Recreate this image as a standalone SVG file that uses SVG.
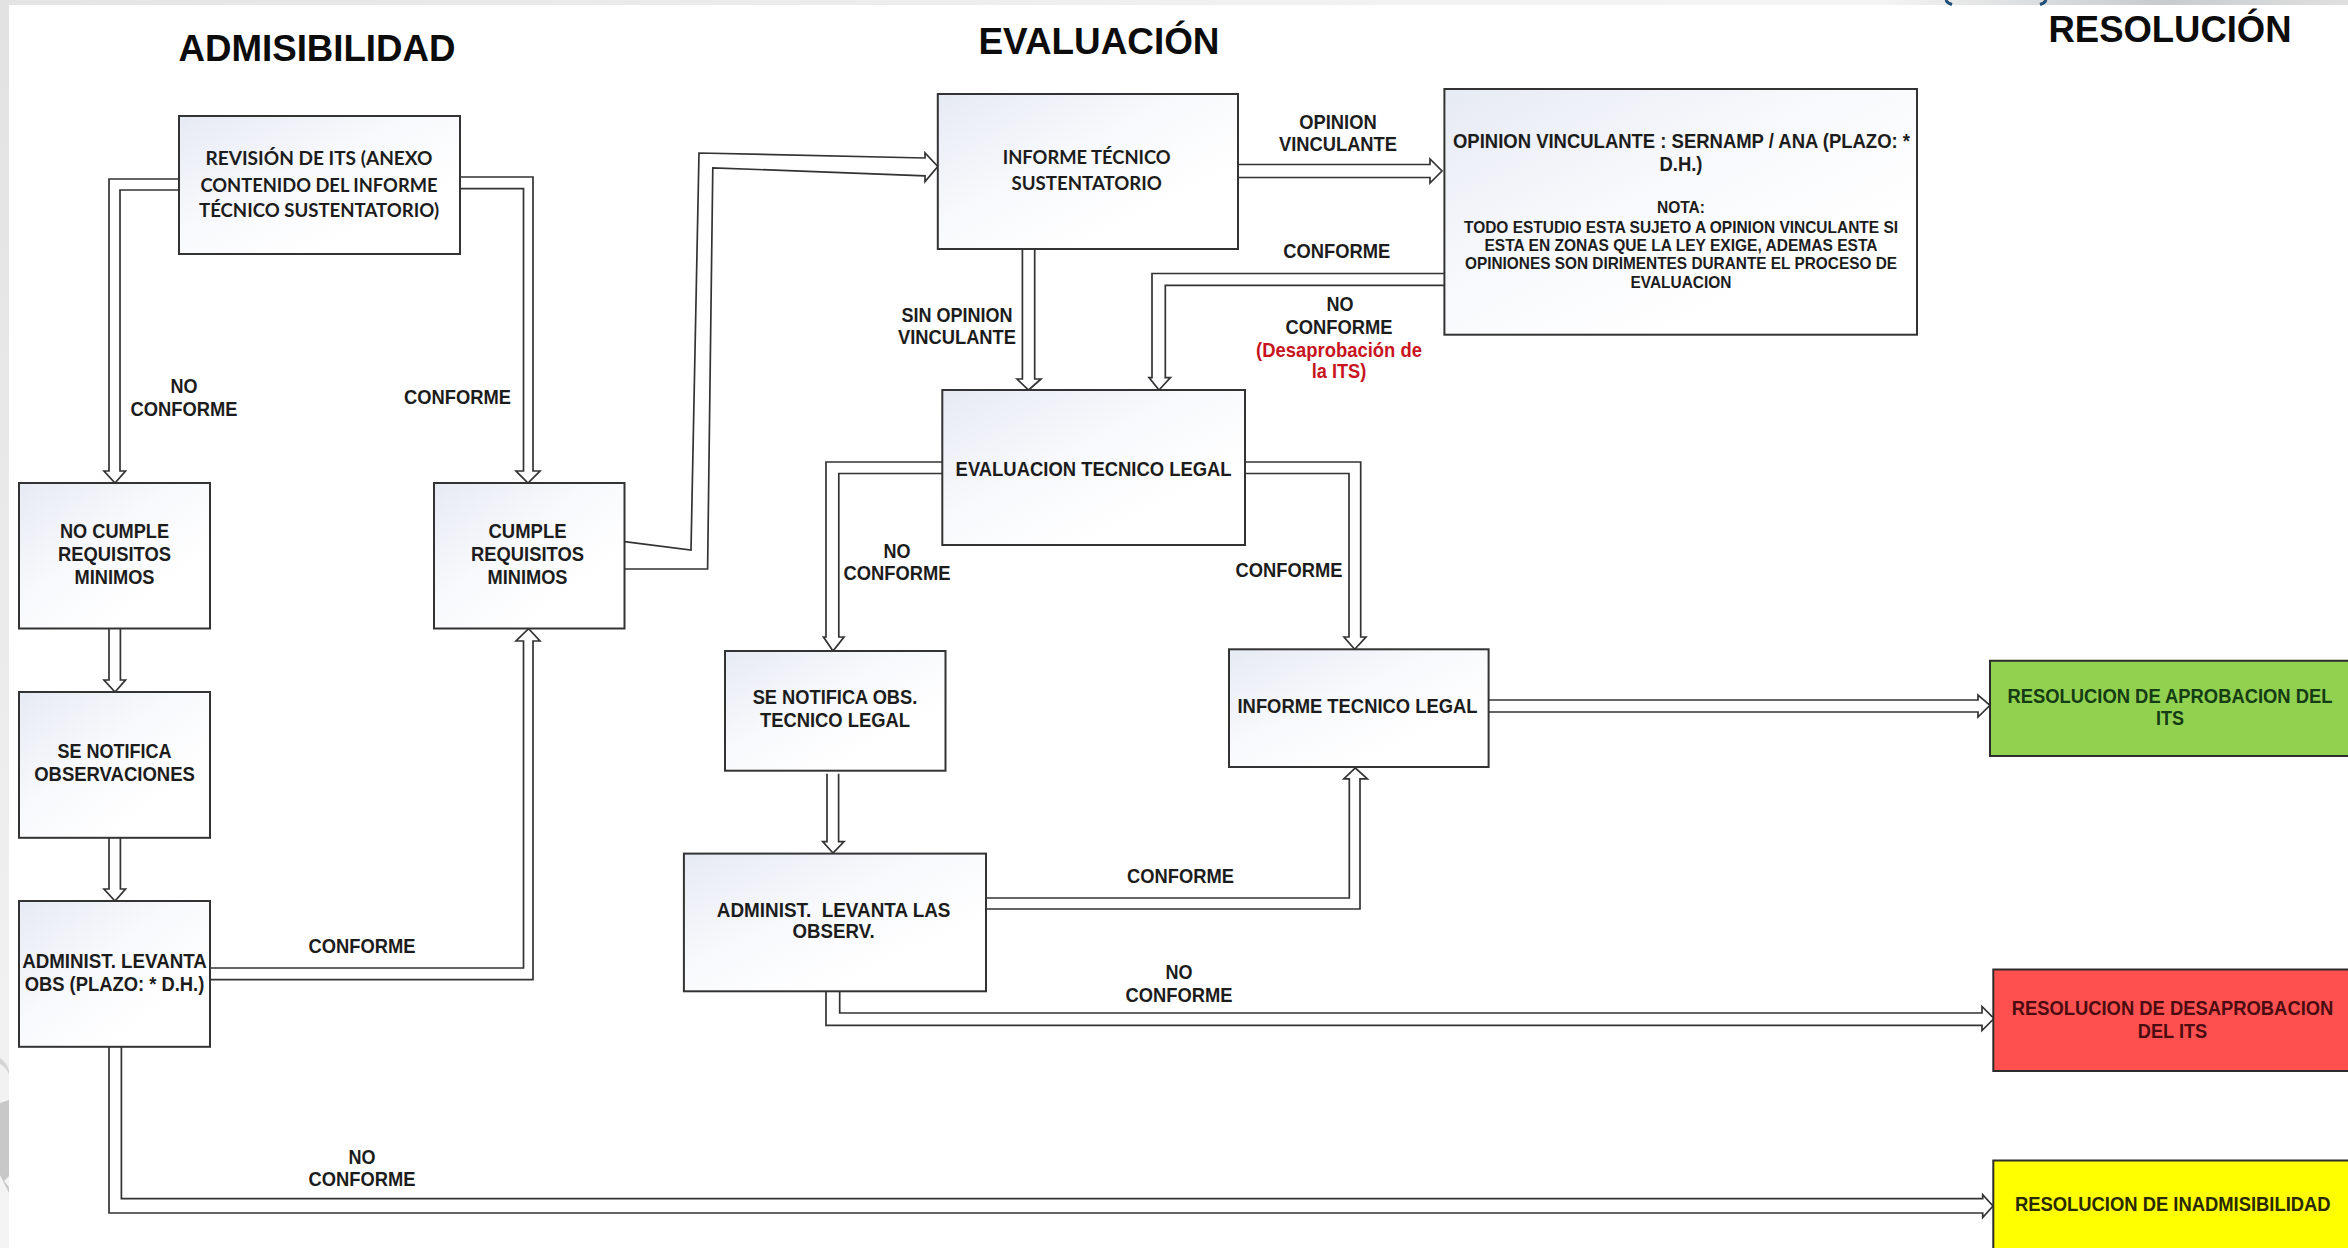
<svg xmlns="http://www.w3.org/2000/svg" width="2348" height="1248" viewBox="0 0 2348 1248">
<style>
text{font-family:"Liberation Sans",Arial,sans-serif;font-weight:700;font-size:21px;fill:#1c1c1c;text-anchor:middle}
.h{font-size:36px;fill:#0c0c0c}
.s{font-size:16.5px;font-weight:700}
.c{font-family:Lato,"Liberation Sans",sans-serif;font-size:19px}
.r{fill:#c8141e}
.g{fill:#143c14;font-size:20px}.d{fill:#4a0c10;font-size:20px}.y{fill:#2a2a00;font-size:20px}
.box{fill:url(#bg);stroke:#333;stroke-width:2}
.edge{fill:none;stroke:#2c2c2c;stroke-width:2}
#connectors path{fill:#fff;stroke:#333;stroke-width:1.7;stroke-linejoin:miter}
</style>
<defs>
<linearGradient id="bg" x1="0" y1="0" x2="0.75" y2="0.75"><stop offset="0" stop-color="#e6eaf4"/><stop offset="0.55" stop-color="#f8f9fc"/><stop offset="1" stop-color="#fff"/></linearGradient>
<linearGradient id="band"><stop offset="0" stop-color="#e4e4e4"/><stop offset="0.6" stop-color="#f2f2f2"/><stop offset="0.8" stop-color="#f4f4f4"/><stop offset="0.92" stop-color="#c8cacc"/><stop offset="1" stop-color="#e0e0e0"/></linearGradient>
<linearGradient id="side" x1="0" y1="0" x2="0" y2="1"><stop offset="0" stop-color="#e2e2e2"/><stop offset="1" stop-color="#f4f4f4"/></linearGradient>
</defs>
<rect width="2348" height="1248" fill="#fff"/>
<g id="backdrop">
<rect width="2348" height="5" fill="url(#band)"/>
<rect width="9" height="1248" fill="url(#side)"/>
<path d="M0,1103 L9,1100 V1176 L4,1181 L9,1187 V1193 L0,1175 Z" fill="#c8c8c8"/>
<path d="M0,1058 Q6,1062 9,1070 V1074 Q5,1066 0,1064 Z" fill="#d4d4d4"/>
<path d="M1946,0 Q1947,3 1952,4.5" fill="none" stroke="#1f4e79" stroke-width="3"/>
<path d="M2046,0 Q2045,3 2040,4.5" fill="none" stroke="#1f4e79" stroke-width="3"/>
</g>
<g id="headings">
<text class="h" x="317" y="61" textLength="277" lengthAdjust="spacingAndGlyphs">ADMISIBILIDAD</text>
<text class="h" x="1099" y="54" textLength="241" lengthAdjust="spacingAndGlyphs">EVALUACIÓN</text>
<text class="h" x="2170" y="41.5" textLength="243" lengthAdjust="spacingAndGlyphs">RESOLUCIÓN</text>
</g>
<g id="connectors">
<path d="M179,179H109V471H104L115,483L125.5,471H120V190H179"/>
<path d="M460,177H533V471H540L528,483L516,471H523.5V188.6H460"/>
<path d="M624.5,541.6L691,550L699,153L925,158V153L937.8,166.5L925,181.6V175.8L712.8,167.8L707.6,569H624.5"/>
<path d="M1238,164.5H1430V159L1442,171L1430,183V177.5H1238"/>
<path d="M1022.4,249V379H1017L1028.6,390L1041,379H1034.7V249"/>
<path d="M1444.4,273.5H1152V377.6H1149L1159,390L1170.4,377.6H1165.3V285.3H1444.4"/>
<path d="M942.3,462H826V637H823.5L833,651L844,637H838.8V473.5H942.3"/>
<path d="M1245,462H1360.7V637H1366L1354.7,649.3L1344,637H1349V473.5H1245"/>
<path d="M827,773.8V841.6H822.7L833,853L844,841.6H838.6V773.8"/>
<path d="M986,898H1349.3V778.8H1343.8L1355.3,768L1367.4,778.8H1360V909H986"/>
<path d="M826,991.3V1025.4H1982V1030.5L1994,1018.5L1982,1006.5V1013H839.7V991.3"/>
<path d="M1488.6,700H1978V695L1990,705.3L1978,717V712H1488.6"/>
<path d="M109,628.5V680H104L115,692L125.5,680H120.4V628.5"/>
<path d="M109,837.8V889H104L115,901L125.5,889H120.4V837.8"/>
<path d="M210,968H523.5V641H516L528.6,628.6L540,641H533V979.7H210"/>
<path d="M109,1046.8V1213H1982.7V1217.5L1993,1206L1982.7,1194.7V1198.7H121.4V1046.8"/>
</g>
<g id="labels">
<text x="184" y="393" textLength="27" lengthAdjust="spacingAndGlyphs">NO</text>
<text x="184" y="415.5" textLength="107" lengthAdjust="spacingAndGlyphs">CONFORME</text>
<text x="457.5" y="404" textLength="107" lengthAdjust="spacingAndGlyphs">CONFORME</text>
<text x="362" y="953" textLength="107" lengthAdjust="spacingAndGlyphs">CONFORME</text>
<text x="362" y="1163.5" textLength="27" lengthAdjust="spacingAndGlyphs">NO</text>
<text x="362" y="1186" textLength="107" lengthAdjust="spacingAndGlyphs">CONFORME</text>
<text x="1338" y="128.6" textLength="77.5" lengthAdjust="spacingAndGlyphs">OPINION</text>
<text x="1338" y="151" textLength="118" lengthAdjust="spacingAndGlyphs">VINCULANTE</text>
<text x="1336.7" y="258.4" textLength="107" lengthAdjust="spacingAndGlyphs">CONFORME</text>
<text x="1340" y="311" textLength="27" lengthAdjust="spacingAndGlyphs">NO</text>
<text x="1339" y="333.9" textLength="107" lengthAdjust="spacingAndGlyphs">CONFORME</text>
<text class="r" x="1339" y="357" textLength="166" lengthAdjust="spacingAndGlyphs">(Desaprobación de</text>
<text class="r" x="1339" y="377.6" textLength="54.6" lengthAdjust="spacingAndGlyphs">la ITS)</text>
<text x="957" y="322.4" textLength="111" lengthAdjust="spacingAndGlyphs">SIN OPINION</text>
<text x="957" y="343.7" textLength="118" lengthAdjust="spacingAndGlyphs">VINCULANTE</text>
<text x="897" y="558" textLength="27" lengthAdjust="spacingAndGlyphs">NO</text>
<text x="897" y="580.4" textLength="107" lengthAdjust="spacingAndGlyphs">CONFORME</text>
<text x="1289" y="577" textLength="107" lengthAdjust="spacingAndGlyphs">CONFORME</text>
<text x="1180.5" y="882.7" textLength="107" lengthAdjust="spacingAndGlyphs">CONFORME</text>
<text x="1179" y="979.3" textLength="27" lengthAdjust="spacingAndGlyphs">NO</text>
<text x="1179" y="1001.8" textLength="107" lengthAdjust="spacingAndGlyphs">CONFORME</text>
</g>
<g id="revision">
<rect class="box" x="179" y="116" width="281" height="138"/>
<text class="c" x="319" y="165" textLength="227" lengthAdjust="spacingAndGlyphs">REVISIÓN DE ITS (ANEXO</text>
<text class="c" x="319" y="192" textLength="237" lengthAdjust="spacingAndGlyphs">CONTENIDO DEL INFORME</text>
<text class="c" x="319" y="216.5" textLength="240" lengthAdjust="spacingAndGlyphs">TÉCNICO SUSTENTATORIO)</text>
</g>
<g id="no-cumple">
<rect class="box" x="19" y="483" width="191" height="145.5"/>
<text x="114.5" y="538" textLength="109" lengthAdjust="spacingAndGlyphs">NO CUMPLE</text>
<text x="114.5" y="561" textLength="113" lengthAdjust="spacingAndGlyphs">REQUISITOS</text>
<text x="114.5" y="584" textLength="80" lengthAdjust="spacingAndGlyphs">MINIMOS</text>
</g>
<g id="cumple">
<rect class="box" x="434" y="483" width="190.5" height="145.5"/>
<text x="527.5" y="538" textLength="78" lengthAdjust="spacingAndGlyphs">CUMPLE</text>
<text x="527.5" y="561" textLength="113" lengthAdjust="spacingAndGlyphs">REQUISITOS</text>
<text x="527.5" y="584" textLength="80" lengthAdjust="spacingAndGlyphs">MINIMOS</text>
</g>
<g id="se-notifica">
<rect class="box" x="19" y="692" width="191" height="145.8"/>
<text x="114.5" y="758" textLength="114" lengthAdjust="spacingAndGlyphs">SE NOTIFICA</text>
<text x="114.5" y="780.8" textLength="160.7" lengthAdjust="spacingAndGlyphs">OBSERVACIONES</text>
</g>
<g id="administ-obs">
<rect class="box" x="19" y="901" width="191" height="145.8"/>
<text x="114.5" y="967.6" textLength="184.7" lengthAdjust="spacingAndGlyphs">ADMINIST. LEVANTA</text>
<text x="114.5" y="991" textLength="179.6" lengthAdjust="spacingAndGlyphs">OBS (PLAZO: * D.H.)</text>
</g>
<g id="informe-tecnico">
<rect class="box" x="937.8" y="94" width="300.2" height="155"/>
<text class="c" x="1086.7" y="164" textLength="168" lengthAdjust="spacingAndGlyphs">INFORME TÉCNICO</text>
<text class="c" x="1086.7" y="190" textLength="150.5" lengthAdjust="spacingAndGlyphs">SUSTENTATORIO</text>
</g>
<g id="opinion">
<rect class="box" x="1444.4" y="89" width="472.6" height="245.7"/>
<text x="1681.5" y="148" textLength="457" lengthAdjust="spacingAndGlyphs">OPINION VINCULANTE : SERNAMP / ANA (PLAZO: *</text>
<text x="1681" y="170.6" textLength="43" lengthAdjust="spacingAndGlyphs">D.H.)</text>
<text class="s" x="1681" y="213" textLength="48" lengthAdjust="spacingAndGlyphs">NOTA:</text>
<text class="s" x="1681" y="232.6" textLength="434" lengthAdjust="spacingAndGlyphs">TODO ESTUDIO ESTA SUJETO A OPINION VINCULANTE SI</text>
<text class="s" x="1681" y="251" textLength="393" lengthAdjust="spacingAndGlyphs">ESTA EN ZONAS QUE LA LEY EXIGE, ADEMAS ESTA</text>
<text class="s" x="1681" y="269.4" textLength="432" lengthAdjust="spacingAndGlyphs">OPINIONES SON DIRIMENTES DURANTE EL PROCESO DE</text>
<text class="s" x="1681" y="287.8" textLength="101" lengthAdjust="spacingAndGlyphs">EVALUACION</text>
</g>
<g id="evaluacion">
<rect class="box" x="942.3" y="390" width="302.7" height="155"/>
<text x="1093.6" y="475.5" textLength="276" lengthAdjust="spacingAndGlyphs">EVALUACION TECNICO LEGAL</text>
</g>
<g id="se-notifica-obs">
<rect class="box" x="725" y="651" width="220.5" height="119.7"/>
<text x="835" y="704" textLength="164.6" lengthAdjust="spacingAndGlyphs">SE NOTIFICA OBS.</text>
<text x="835" y="727" textLength="150" lengthAdjust="spacingAndGlyphs">TECNICO LEGAL</text>
</g>
<g id="informe-legal">
<rect class="box" x="1229" y="649.3" width="259.6" height="117.7"/>
<text x="1357.5" y="712.5" textLength="240" lengthAdjust="spacingAndGlyphs">INFORME TECNICO LEGAL</text>
</g>
<g id="administ-levanta">
<rect class="box" x="683.9" y="853.6" width="302.1" height="137.7"/>
<text x="833.6" y="916.5" textLength="233.7" lengthAdjust="spacingAndGlyphs" xml:space="preserve">ADMINIST.  LEVANTA LAS</text>
<text x="833.6" y="938" textLength="82" lengthAdjust="spacingAndGlyphs">OBSERV.</text>
</g>
<g id="res-aprobacion">
<rect x="1990" y="660.8" width="358" height="95.2" fill="#92d050"/>
<path class="edge" d="M2348,660.8H1990V756H2348"/>
<text class="g" x="2170" y="703" textLength="325" lengthAdjust="spacingAndGlyphs">RESOLUCION DE APROBACION DEL</text>
<text class="g" x="2170" y="725" textLength="28" lengthAdjust="spacingAndGlyphs">ITS</text>
</g>
<g id="res-desaprobacion">
<rect x="1993.3" y="969.6" width="354.7" height="101.4" fill="#ff5050"/>
<path class="edge" d="M2348,969.6H1993.3V1071H2348"/>
<text class="d" x="2172.5" y="1015" textLength="321.7" lengthAdjust="spacingAndGlyphs">RESOLUCION DE DESAPROBACION</text>
<text class="d" x="2172.5" y="1037.7" textLength="69.3" lengthAdjust="spacingAndGlyphs">DEL ITS</text>
</g>
<g id="res-inadmisibilidad">
<rect x="1993.3" y="1160.6" width="354.7" height="87.4" fill="#ffff00"/>
<path class="edge" d="M2348,1160.6H1993.3V1248"/>
<text class="y" x="2172.8" y="1210.7" textLength="315.7" lengthAdjust="spacingAndGlyphs">RESOLUCION DE INADMISIBILIDAD</text>
</g>
</svg>
